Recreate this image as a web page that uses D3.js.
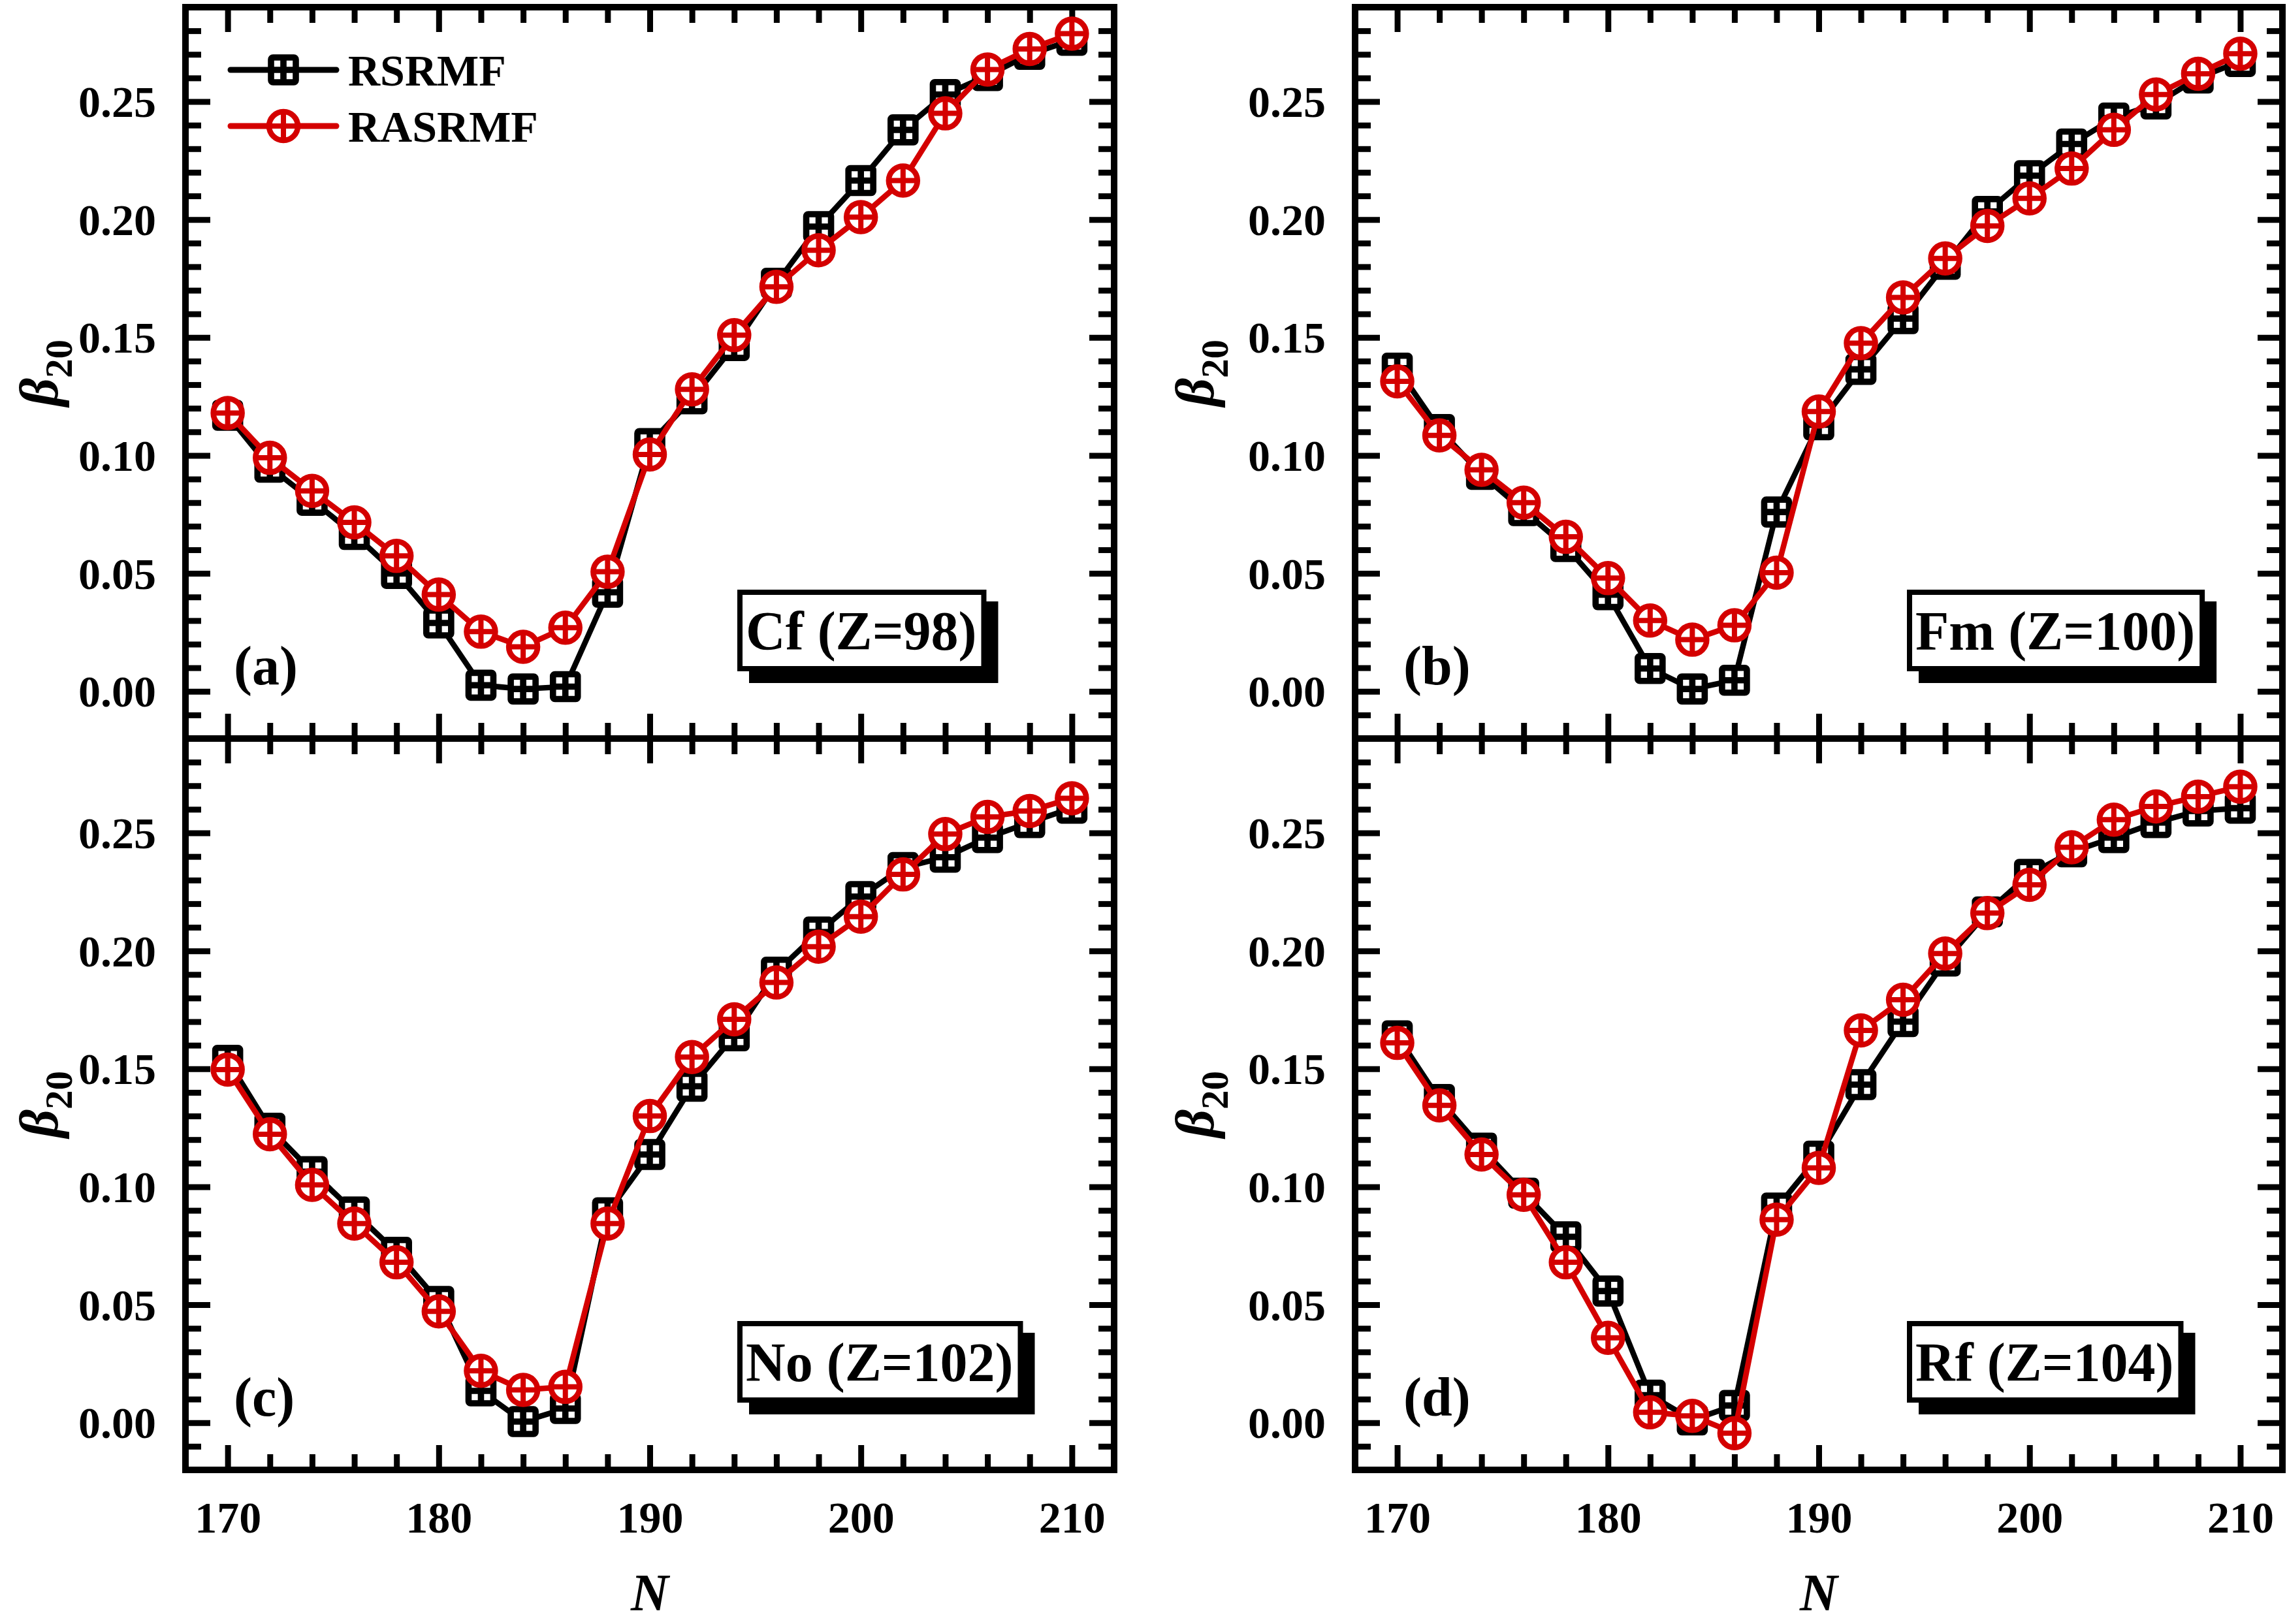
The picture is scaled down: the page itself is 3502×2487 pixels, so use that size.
<!DOCTYPE html>
<html>
<head>
<meta charset="utf-8">
<script src="https://cdn.jsdelivr.net/npm/d3@7"></script>
<style>
  body { margin: 0; background: #fff; }
  svg { display: block; }
  text { font-family: "Liberation Serif", "Times New Roman", serif; font-weight: bold; }
</style>
</head>
<body>
<div id="chart"></div>
<script>
// neutron numbers on the x axis
const neutrons = [170, 172, 174, 176, 178, 180, 182, 184, 186, 188, 190,
                  192, 194, 196, 198, 200, 202, 204, 206, 208, 210];

// beta_20, one array per panel and model
const rsrmfCf  = [0.117, 0.095, 0.081, 0.0665, 0.050, 0.029, 0.0026, 0.001, 0.002, 0.042, 0.105,
                  0.124, 0.1466, 0.173, 0.197, 0.2165, 0.238, 0.253, 0.261, 0.270, 0.276];
const rasrmfCf = [0.118, 0.099, 0.085, 0.0716, 0.0574, 0.041, 0.0253, 0.0189, 0.027, 0.0507, 0.1004,
                  0.128, 0.151, 0.1715, 0.187, 0.201, 0.2165, 0.245, 0.2636, 0.2723, 0.2788];

const rsrmfFm  = [0.137, 0.111, 0.092, 0.0766, 0.0614, 0.041, 0.0097, 0.001, 0.0047, 0.076, 0.113,
                  0.1365, 0.158, 0.181, 0.2034, 0.2186, 0.232, 0.243, 0.249, 0.260, 0.267];
const rasrmfFm = [0.1314, 0.1085, 0.0939, 0.080, 0.0655, 0.048, 0.030, 0.0219, 0.028, 0.0503, 0.1186,
                  0.1476, 0.167, 0.1835, 0.1973, 0.209, 0.2216, 0.238, 0.253, 0.2618, 0.2703];

const rsrmfNo  = [0.1536, 0.1248, 0.1064, 0.0893, 0.0722, 0.0514, 0.0135, 0.0005, 0.006, 0.089, 0.1137,
                  0.1426, 0.164, 0.191, 0.208, 0.223, 0.2353, 0.2397, 0.248, 0.2544, 0.2605];
const rasrmfNo = [0.1497, 0.1223, 0.1008, 0.0844, 0.068, 0.0472, 0.022, 0.0139, 0.0152, 0.0844, 0.130,
                  0.155, 0.171, 0.1866, 0.2018, 0.2145, 0.2324, 0.2495, 0.2568, 0.2593, 0.2647];

const rsrmfRf  = [0.164, 0.137, 0.1164, 0.0973, 0.0788, 0.0558, 0.0117, 0.0012, 0.0073, 0.091, 0.113,
                  0.1433, 0.170, 0.1957, 0.2165, 0.2324, 0.242, 0.248, 0.2544, 0.2593, 0.2605];
const rasrmfRf = [0.161, 0.1345, 0.1137, 0.0966, 0.068, 0.036, 0.0044, 0.0029, -0.0044, 0.0861, 0.108,
                  0.1663, 0.1793, 0.1989, 0.216, 0.228, 0.2439, 0.2556, 0.2612, 0.2654, 0.2696];

const panelTags = ["(a)", "(b)", "(c)", "(d)"];
const nucleusLabels = ["Cf (Z=98)", "Fm (Z=100)", "No (Z=102)", "Rf (Z=104)"];
const seriesNames = ["RSRMF", "RASRMF"];

const xMajorTicks = [170, 180, 190, 200, 210];
const yMajorTicks = [0.00, 0.05, 0.10, 0.15, 0.20, 0.25];

const black = "#000000", red = "#d40000";

const svg = d3.select("#chart").append("svg")
    .attr("width", 3502)
    .attr("height", 2487);

// panel frames (pixels)
const panels = [
    {left: 284,  right: 1706, top: 11,   bottom: 1131, labelX: 88,   bottomLabels: false, rs: rsrmfCf, ras: rasrmfCf},
    {left: 2075, right: 3495, top: 11,   bottom: 1131, labelX: 1858, bottomLabels: false, rs: rsrmfFm, ras: rasrmfFm},
    {left: 284,  right: 1706, top: 1131, bottom: 2251, labelX: 88,   bottomLabels: true,  rs: rsrmfNo, ras: rasrmfNo},
    {left: 2075, right: 3495, top: 1131, bottom: 2251, labelX: 1858, bottomLabels: true,  rs: rsrmfRf, ras: rasrmfRf}
];

const yMinorTicks = d3.range(-1, 29).map(i => i / 100).filter(v => !yMajorTicks.some(m => Math.abs(m - v) < 1e-9));
const xMinorTicks = neutrons.filter(n => !xMajorTicks.includes(n));

const minorLen = 24, majorLen = 38, tickW = 9;

function styleAxis(g) {
    g.select(".domain").remove();
    g.selectAll("line").attr("stroke", black).attr("stroke-width", tickW);
    g.attr("font-family", "'Liberation Serif', 'Times New Roman', serif")
     .attr("font-size", 68)
     .attr("font-weight", "bold");
    g.selectAll("text").attr("fill", black);
}

// square with a cross (RSRMF)
function squareMarker(sel) {
    sel.append("rect")
        .attr("x", -19).attr("y", -19).attr("width", 38).attr("height", 38)
        .attr("rx", 3)
        .attr("fill", "#fff").attr("stroke", black).attr("stroke-width", 9.6);
    sel.append("path")
        .attr("d", "M-19,0H19M0,-19V19")
        .attr("stroke", black).attr("stroke-width", 9.6);
}

// circle with a cross (RASRMF)
function circleMarker(sel) {
    sel.append("circle")
        .attr("r", 22)
        .attr("fill", "#fff").attr("stroke", red).attr("stroke-width", 8.5);
    sel.append("path")
        .attr("d", "M-22,0H22M0,-22V22")
        .attr("stroke", red).attr("stroke-width", 8);
}

panels.forEach((p, i) => {
    const g = svg.append("g");

    const x = d3.scaleLinear().domain([168, 212]).range([p.left, p.right]);
    const y = d3.scaleLinear().domain([-0.02, 0.29]).range([p.bottom, p.top]);

    // ticks on all four sides, pointing inward
    g.append("g").attr("transform", `translate(${p.left},0)`)
        .call(d3.axisLeft(y).tickValues(yMinorTicks).tickSize(-minorLen).tickFormat(""))
        .call(styleAxis);
    g.append("g").attr("transform", `translate(${p.left},0)`)
        .call(d3.axisLeft(y).tickValues(yMajorTicks).tickSize(-majorLen).tickPadding(45).tickFormat(d3.format(".2f")))
        .call(styleAxis)
        .call(a => a.selectAll("text").attr("dy", "0.34em"));
    g.append("g").attr("transform", `translate(${p.right},0)`)
        .call(d3.axisRight(y).tickValues(yMinorTicks).tickSize(-minorLen).tickFormat(""))
        .call(styleAxis);
    g.append("g").attr("transform", `translate(${p.right},0)`)
        .call(d3.axisRight(y).tickValues(yMajorTicks).tickSize(-majorLen).tickFormat(""))
        .call(styleAxis);

    g.append("g").attr("transform", `translate(0,${p.top})`)
        .call(d3.axisTop(x).tickValues(xMinorTicks).tickSize(-minorLen).tickFormat(""))
        .call(styleAxis);
    g.append("g").attr("transform", `translate(0,${p.top})`)
        .call(d3.axisTop(x).tickValues(xMajorTicks).tickSize(-majorLen).tickFormat(""))
        .call(styleAxis);
    g.append("g").attr("transform", `translate(0,${p.bottom})`)
        .call(d3.axisBottom(x).tickValues(xMinorTicks).tickSize(-minorLen).tickFormat(""))
        .call(styleAxis);
    g.append("g").attr("transform", `translate(0,${p.bottom})`)
        .call(d3.axisBottom(x).tickValues(xMajorTicks).tickSize(-majorLen).tickPadding(48)
            .tickFormat(p.bottomLabels ? d3.format("d") : ""))
        .call(styleAxis);

    // frame
    g.append("rect")
        .attr("x", p.left).attr("y", p.top)
        .attr("width", p.right - p.left).attr("height", p.bottom - p.top)
        .attr("fill", "none").attr("stroke", black).attr("stroke-width", 10);

    // y label: beta_20
    const cy = (p.top + p.bottom) / 2;
    const yl = g.append("text")
        .attr("transform", `translate(${p.labelX},${cy}) rotate(-90)`)
        .attr("text-anchor", "middle")
        .attr("font-size", 84);
    yl.append("tspan").attr("font-style", "italic").text("\u03B2");
    yl.append("tspan").attr("font-size", 59).attr("dy", 22).text("20");

    // x label
    if (p.bottomLabels) {
        g.append("text")
            .attr("x", (p.left + p.right) / 2).attr("y", 2466)
            .attr("text-anchor", "middle")
            .attr("font-size", 80)
            .attr("font-style", "italic")
            .text("N");
    }

    // lines and markers
    const line = d3.line().x((d, k) => x(neutrons[k])).y(d => y(d));
    [[p.rs, black, squareMarker], [p.ras, red, circleMarker]].forEach(([vals, col, mark]) => {
        g.append("path")
            .datum(vals)
            .attr("d", line)
            .attr("fill", "none")
            .attr("stroke", col)
            .attr("stroke-width", 8.5)
            .attr("stroke-linejoin", "round");
        g.append("g").selectAll("g")
            .data(vals)
            .join("g")
            .attr("transform", (d, k) => `translate(${x(neutrons[k])},${y(d)})`)
            .each(function () { mark(d3.select(this)); });
    });

    // panel tag
    g.append("text")
        .attr("x", p.left + 74).attr("y", p.top + 1037)
        .attr("font-size", 84)
        .text(panelTags[i]);

    // nucleus box with shadow
    const box = g.append("g");
    const shadow = box.append("rect");
    const frame = box.append("rect");
    const label = box.append("text")
        .attr("x", p.left + 858).attr("y", p.top + 984)
        .attr("font-size", 84)
        .text(nucleusLabels[i]);
    const bb = label.node().getBBox();
    const bx = bb.x - 9, bw = bb.width + 20, by = p.top + 896, bh = 117;
    shadow.attr("x", bx + 18).attr("y", by + 18).attr("width", bw).attr("height", bh)
        .attr("fill", black).attr("stroke", black).attr("stroke-width", 8);
    frame.attr("x", bx).attr("y", by).attr("width", bw).attr("height", bh)
        .attr("fill", "#fff").attr("stroke", black).attr("stroke-width", 8);

    // legend only in panel (a)
    if (i === 0) {
        const leg = g.append("g");
        [[black, squareMarker, 107], [red, circleMarker, 193]].forEach(([col, mark, ly], k) => {
            leg.append("line")
                .attr("x1", 353).attr("x2", 515).attr("y1", ly).attr("y2", ly)
                .attr("stroke", col).attr("stroke-width", 9).attr("stroke-linecap", "round");
            mark(leg.append("g").attr("transform", `translate(434,${ly})`));
            leg.append("text")
                .attr("x", 533).attr("y", ly + 24)
                .attr("font-size", 68)
                .text(seriesNames[k]);
        });
    }
});
</script>
</body>
</html>
